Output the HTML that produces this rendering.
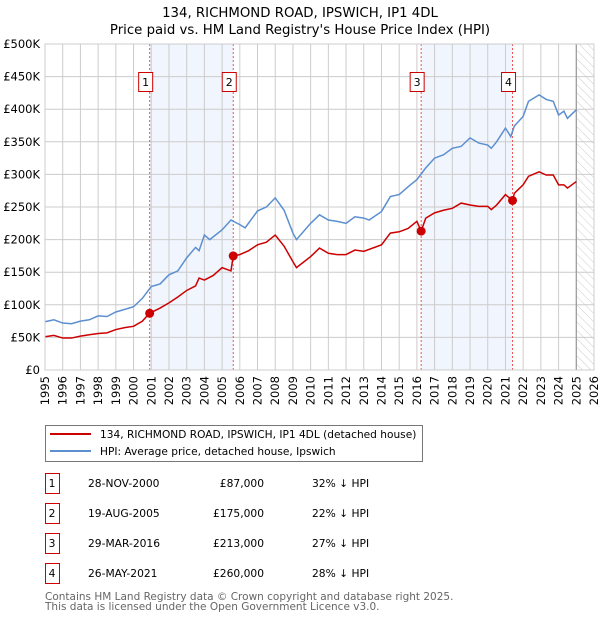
<!DOCTYPE html>
<html><head><meta charset="utf-8"><style>
body{margin:0;background:#fff;font-family:"Liberation Sans","DejaVu Sans",sans-serif;}
svg text{font-family:"DejaVu Sans","Liberation Sans",sans-serif;}
</style></head><body>
<svg width="600" height="620" viewBox="0 0 600 620" xmlns="http://www.w3.org/2000/svg">
<defs><pattern id="hatch" width="6" height="6" patternUnits="userSpaceOnUse" patternTransform="rotate(-45)"><line x1="0" y1="0" x2="0" y2="6" stroke="#ccc" stroke-width="1"/></pattern></defs>
<text x="300" y="17" text-anchor="middle" font-size="13.3">134, RICHMOND ROAD, IPSWICH, IP1 4DL</text>
<text x="300" y="34" text-anchor="middle" font-size="13.3">Price paid vs. HM Land Registry's House Price Index (HPI)</text>
<g id="plot"></g>
<g>
<rect x="45.5" y="425.5" width="377" height="36" fill="#fff" stroke="#777"/>
<line x1="50" y1="434" x2="91" y2="434" stroke="#cc0000" stroke-width="2"/>
<text x="100" y="438" font-size="10.6">134, RICHMOND ROAD, IPSWICH, IP1 4DL (detached house)</text>
<line x1="50" y1="451" x2="91" y2="451" stroke="#5b8fd0" stroke-width="2"/>
<text x="100" y="455" font-size="10.6">HPI: Average price, detached house, Ipswich</text>
</g>
<g id="table" font-size="11"></g>
<text x="45" y="600" font-size="10.5" fill="#666">Contains HM Land Registry data © Crown copyright and database right 2025.</text>
<text x="45" y="610" font-size="10.5" fill="#666">This data is licensed under the Open Government Licence v3.0.</text>
</svg>
<script>
const hpiYears=[1995,1995.5,1996,1996.5,1997,1997.5,1998,1998.5,1999,1999.5,2000,2000.5,2001,2001.5,2002,2002.5,2003,2003.5,2003.7,2004,2004.3,2005,2005.5,2006,2006.3,2007,2007.5,2008,2008.5,2009,2009.2,2010,2010.5,2011,2011.5,2012,2012.5,2013,2013.3,2014,2014.5,2015,2015.5,2016,2016.5,2017,2017.5,2018,2018.5,2019,2019.5,2020,2020.2,2020.5,2021,2021.3,2021.5,2022,2022.3,2022.9,2023.3,2023.7,2024,2024.3,2024.5,2025];
const hpiValues=[74,77,72,71,75,77,83,82,89,93,97,110,128,132,146,152,172,188,183,207,200,215,230,223,218,244,250,264,245,210,200,225,238,230,228,225,235,233,230,243,266,269,281,292,310,325,330,340,343,356,348,345,340,350,371,358,374,389,412,422,415,412,391,397,386,399];
const propYears=[1995,1995.5,1996,1996.5,1997,1997.5,1998,1998.5,1999,1999.5,2000,2000.5,2000.9,2001.5,2002,2002.5,2003,2003.5,2003.7,2004,2004.5,2005,2005.5,2005.63,2006,2006.5,2007,2007.5,2008,2008.5,2009,2009.2,2010,2010.5,2011,2011.5,2012,2012.5,2013,2014,2014.5,2015,2015.5,2016,2016.24,2016.5,2017,2017.5,2018,2018.5,2019,2019.5,2020,2020.2,2020.5,2021,2021.4,2021.5,2022,2022.3,2022.9,2023.3,2023.7,2024,2024.3,2024.5,2025];
const propValues=[51,53,49,49,52,54,56,57,62,65,67,75,87,95,103,112,122,129,141,138,145,157,152,175,177,183,192,196,207,190,166,157,174,187,179,177,177,184,182,192,210,212,217,228,213,233,241,245,248,256,253,251,251,246,253,269,260,271,284,297,304,299,299,284,284,279,289];
const saleLabels=["1","2","3","4"];
const saleYears=[2000.91,2005.63,2016.24,2021.4];
const salePrices=[87,175,213,260];
const saleDates=["28-NOV-2000","19-AUG-2005","29-MAR-2016","26-MAY-2021"];
const salePriceText=["£87,000","£175,000","£213,000","£260,000"];
const salePct=["32% ↓ HPI","22% ↓ HPI","27% ↓ HPI","28% ↓ HPI"];
const yTicks=[0,50,100,150,200,250,300,350,400,450,500];
const yTickLabels=["£0","£50K","£100K","£150K","£200K","£250K","£300K","£350K","£400K","£450K","£500K"];
const xTicks=[1995,1996,1997,1998,1999,2000,2001,2002,2003,2004,2005,2006,2007,2008,2009,2010,2011,2012,2013,2014,2015,2016,2017,2018,2019,2020,2021,2022,2023,2024,2025,2026];

const L=45,R=594,T=44,B=370,X0=1995,X1=2026,YMAX=500;
const sx=v=>L+(v-X0)/(X1-X0)*(R-L);
const sy=v=>B-v/YMAX*(B-T);
const NS="http://www.w3.org/2000/svg";
const plot=document.getElementById('plot');
function mk(tag,attrs,parent){const e=document.createElementNS(NS,tag);for(const k in attrs)e.setAttribute(k,attrs[k]);(parent||plot).appendChild(e);return e;}

const bg=mk('rect',{x:L,y:T,width:R-L,height:B-T,fill:'#fff'});


for(let i=0;i<saleYears.length;i+=2){
  const s=mk('rect',{x:sx(saleYears[i]),y:T,width:sx(saleYears[i+1])-sx(saleYears[i]),height:B-T,fill:'#eef3fc',opacity:0.8});
  
  
}
const h=mk('rect',{x:sx(2025),y:T,width:R-sx(2025),height:B-T,fill:'url(#hatch)'});


yTicks.forEach((v,i)=>{
  const g=mk('line',{x1:L,x2:R,y1:sy(v),y2:sy(v),stroke:'#ccc','stroke-width':1});
  
  
  const t=mk('text',{x:40,y:sy(v)+4,'text-anchor':'end','font-size':11.5});
  t.textContent=yTickLabels[i];
  
  
});
xTicks.forEach(v=>{
  const g=mk('line',{x1:sx(v),x2:sx(v),y1:T,y2:B,stroke:'#ccc','stroke-width':1});
  
  
  const t=mk('text',{x:0,y:0,'text-anchor':'end','font-size':11.5,transform:`translate(${sx(v)+4},${B+6}) rotate(-90)`});
  t.textContent=v;
  
  
});
const vl=mk('line',{x1:sx(2025),x2:sx(2025),y1:T,y2:B,stroke:'#999','stroke-width':1.2});


saleYears.forEach((v,i)=>{
  const d=mk('line',{x1:sx(v),x2:sx(v),y1:T,y2:B,stroke:'#e55','stroke-width':1,'stroke-dasharray':'2,2'});
  
  
  const b=mk('rect',{x:sx(v)-11,y:72.5,width:14,height:19,fill:'#fff',stroke:'#cc0000'});
  
  
  const t=mk('text',{x:sx(v)-4,y:86,'text-anchor':'middle','font-size':11});
  t.textContent=saleLabels[i];
  
  
});
const hp=mk('polyline',{points:hpiYears.map((y,i)=>sx(y)+','+sy(hpiValues[i])).join(' '),fill:'none',stroke:'#5b8fd0','stroke-width':1.5});


const pp=mk('polyline',{points:propYears.map((y,i)=>sx(y)+','+sy(propValues[i])).join(' '),fill:'none',stroke:'#cc0000','stroke-width':1.5});


saleYears.forEach((v,i)=>{
  const c=mk('circle',{cx:sx(v),cy:sy(salePrices[i]),r:4.5,fill:'#cc0000'});
  
  
});
const fr=mk('rect',{x:L,y:T,width:R-L,height:B-T,fill:'none',stroke:'#ccc'});



const tb=document.getElementById('table');
saleLabels.forEach((l,i)=>{
  const y=483+i*30;
  const b=mk('rect',{x:45.5,y:y-9.5,width:14,height:20,fill:'#fff',stroke:'#cc0000'},tb);
  
  
  const cols=[[52,l,'middle'],[88,saleDates[i],'start'],[264,salePriceText[i],'end'],[312,salePct[i],'start']];
  cols.forEach(c=>{
    const t=mk('text',{x:c[0],y:y+4,'text-anchor':c[2],'font-size':10.7},tb);
    t.textContent=c[1];
    
    
  });
});
</script>
</body></html>
